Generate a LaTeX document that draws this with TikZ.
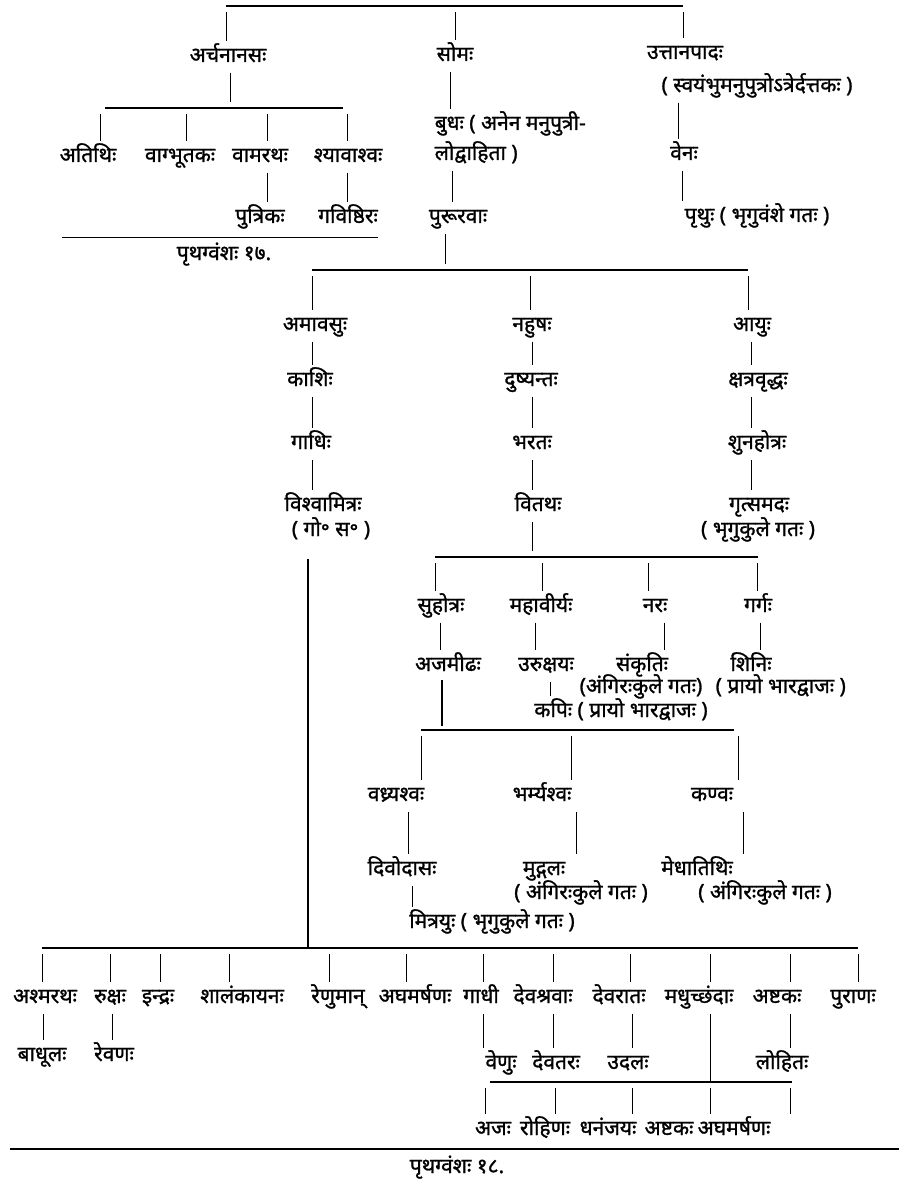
\documentclass[tikz,border=0pt]{standalone}
\usepackage{fontspec}
\setmainfont{Noto Sans}[Script=Devanagari, FakeBold=1.2]
\usetikzlibrary{positioning}
\begin{document}
\begin{tikzpicture}[x=1pt, y=-1pt,
  every node/.style={font=\fontsize{21}{24}\selectfont, inner sep=1.5pt, text height=15pt, text depth=5pt},
  lnk/.style={line width=0.9pt, shorten <=4pt, shorten >=4pt},
  drop/.style={lnk, shorten <=6pt},
  rise/.style={lnk, shorten >=6pt},
  bar/.style={line width=1.3pt},
  trunk/.style={line width=2.8pt}
]
\useasboundingbox (0,0) rectangle (899,1182);

% upper generations
\node (archa) at (228,57) {अर्चनानसः};
\node (soma) at (455,56) {सोमः};
\node (uttana) at (685,54) {उत्तानपादः};
\node (uttanaN) at (757,87) {( स्वयंभुमनुपुत्रोऽत्रेर्दत्तकः )};
\node (atithi) at (88,157) {अतिथिः};
\node (vagbhu) at (180,157) {वाग्भूतकः};
\node (vamaratha) at (260,157) {वामरथः};
\node (shyava) at (348,157) {श्यावाश्वः};
\node (putrika) at (260,218) {पुत्रिकः};
\node (gavish) at (348,218) {गविष्ठिरः};
\node (cap17) at (224,255) {पृथग्वंशः १७.};
\node[anchor=west] (budha) at (433,125) {बुधः ( अनेन मनुपुत्री-};
\node[anchor=west] (budhaN) at (433,155) {लोद्वाहिता )};
\node (pururava) at (458,218) {पुरूरवाः};
\node (vena) at (684,155) {वेनः};
\node (prithu) at (757,217) {पृथुः ( भृगुवंशे गतः )};

% three lines from pururava
\node (amavasu) at (315,326) {अमावसुः};
\node (kashi) at (310,381) {काशिः};
\node (gadhi) at (311,444) {गाधिः};
\node (vishva) at (323,506) {विश्वामित्रः};
\node (gos) at (331,531) {( गो॰ स॰ )};
\node (nahusha) at (532,326) {नहुषः};
\node (dushyanta) at (531,381) {दुष्यन्तः};
\node (bharata) at (532,444) {भरतः};
\node (vitatha) at (538,506) {वितथः};
\node (ayu) at (752,326) {आयुः};
\node (kshatra) at (758,381) {क्षत्रवृद्धः};
\node (shuna) at (757,444) {शुनहोत्रः};
\node (gritsa) at (759,506) {गृत्समदः};
\node (gritsaN) at (758,531) {( भृगुकुले गतः )};

% sons of vitatha
\node (suhotra) at (441,607) {सुहोत्रः};
\node (mahavirya) at (541,607) {महावीर्यः};
\node (nara) at (655,607) {नरः};
\node (garga) at (758,607) {गर्गः};
\node (ajamidha) at (448,666) {अजमीढः};
\node (urukshaya) at (546,666) {उरुक्षयः};
\node (sankriti) at (642,666) {संकृतिः};
\node (shini) at (751,666) {शिनिः};
\node (sankritiN) at (641,688) {(अंगिरःकुले गतः)};
\node[anchor=west] (shiniN) at (714,688) {( प्रायो भारद्वाजः )};
\node (kapi) at (621,712) {कपिः ( प्रायो भारद्वाजः )};
\node (vadhrya) at (396,796) {वध्र्यश्वः};
\node (bharmya) at (542,796) {भर्म्यश्वः};
\node (kanva) at (712,796) {कण्वः};
\node (divodasa) at (402,870) {दिवोदासः};
\node (mudgala) at (544,870) {मुद्गलः};
\node (medha) at (697,870) {मेधातिथिः};
\node (mudgalaN) at (581,894) {( अंगिरःकुले गतः )};
\node (medhaN) at (765,894) {( अंगिरःकुले गतः )};
\node (mitrayu) at (492,923) {मित्रयुः ( भृगुकुले गतः )};

% sons of vishvamitra
\node (ashma) at (45,998) {अश्मरथः};
\node (ruksha) at (110,998) {रुक्षः};
\node (indra) at (158,998) {इन्द्रः};
\node (shalan) at (242,998) {शालंकायनः};
\node (renu) at (338,998) {रेणुमान्};
\node (agha) at (415,998) {अघमर्षणः};
\node (gadhiB) at (481,998) {गाधी};
\node (devashrava) at (543,998) {देवश्रवाः};
\node (devarata) at (619,998) {देवरातः};
\node (madhu) at (699,998) {मधुच्छंदाः};
\node (ashtaka) at (777,998) {अष्टकः};
\node (purana) at (853,998) {पुराणः};
\node (badhula) at (42,1056) {बाधूलः};
\node (revana) at (114,1056) {रेवणः};
\node (venu) at (501,1064) {वेणुः};
\node (devatara) at (556,1064) {देवतरः};
\node (udala) at (628,1064) {उदलः};
\node (lohita) at (782,1064) {लोहितः};
\node (aja) at (493,1130) {अजः};
\node (rohina) at (545,1130) {रोहिणः};
\node (dhananjaya) at (608,1130) {धनंजयः};
\node (ashtakaB) at (669,1130) {अष्टकः};
\node (aghaB) at (734,1130) {अघमर्षणः};
\node (cap18) at (457,1168) {पृथग्वंशः १८.};

% bars
\coordinate (b1) at (226,6);
\coordinate (b2) at (105,108);
\coordinate (b17) at (62,237);
\coordinate (b3) at (312,270);
\coordinate (b4) at (435,557);
\coordinate (b5) at (421,730);
\coordinate (b7) at (42,948);
\coordinate (b8) at (490,1082);
\coordinate (b18) at (10,1149);
\draw[bar] (b1) -- ++(457,0);
\draw[bar] (b2) -- ++(238,0);
\draw[bar, line width=0.9pt] (b17) -- ++(316,0);
\draw[bar] (b3) -- ++(436,0);
\draw[bar] (b4) -- ++(323,0);
\draw[bar] (b5) -- ++(313,0);
\draw[bar] (b7) -- ++(816,0);
\draw[bar] (b8) -- ++(302,0);
\draw[bar] (b18) -- ++(889,0);

% connectors
\foreach \x/\n in {226/archa,455/soma,683/uttana}
  \draw[drop] (\x,0 |- b1) -- (\x,0 |- \n.north);
\draw[rise] (230,0 |- archa.south) -- (230,0 |- b2);
\foreach \x/\n in {100/atithi,186/vagbhu,267/vamaratha,347/shyava}
  \draw[drop] (\x,0 |- b2) -- (\x,0 |- \n.north);
\draw[lnk] (267,0 |- vamaratha.south) -- (267,0 |- putrika.north);
\draw[lnk] (347,0 |- shyava.south) -- (347,0 |- gavish.north);
\draw[lnk] (450,0 |- soma.south) -- (450,0 |- budha.north);
\draw[lnk] (452,0 |- budhaN.south) -- (452,0 |- pururava.north);
\draw[rise] (445,0 |- pururava.south) -- (445,0 |- b3);
\draw[lnk] (678,0 |- uttanaN.south) -- (678,0 |- vena.north);
\draw[lnk] (682,0 |- vena.south) -- (682,0 |- prithu.north);
\foreach \x/\n in {312/amavasu,530/nahusha,748/ayu}
  \draw[drop] (\x,0 |- b3) -- (\x,0 |- \n.north);
\foreach \a/\b in {amavasu/kashi,kashi/gadhi,gadhi/vishva}
  \draw[lnk] (312,0 |- \a.south) -- (312,0 |- \b.north);
\foreach \a/\b in {nahusha/dushyanta,dushyanta/bharata,bharata/vitatha}
  \draw[lnk] (532,0 |- \a.south) -- (532,0 |- \b.north);
\foreach \a/\b in {ayu/kshatra,kshatra/shuna,shuna/gritsa}
  \draw[lnk] (751,0 |- \a.south) -- (751,0 |- \b.north);
\draw[trunk, shorten <=16pt, shorten >=1pt] (308,0 |- gos.south) -- (308,0 |- b7);
\draw[rise] (532,0 |- vitatha.south) -- (532,0 |- b4);
\foreach \x/\n in {435/suhotra,542/mahavirya,648/nara,757/garga}
  \draw[drop] (\x,0 |- b4) -- (\x,0 |- \n.north);
\foreach \x/\a/\b in {440/suhotra/ajamidha,535/mahavirya/urukshaya,664/nara/sankriti,760/garga/shini}
  \draw[lnk] (\x,0 |- \a.south) -- (\x,0 |- \b.north);
\draw[trunk, shorten <=2pt, shorten >=4pt] (442,0 |- ajamidha.south) -- (442,0 |- b5);
\draw[lnk] (550,0 |- urukshaya.south) -- (550,0 |- kapi.north);
\foreach \x/\n in {421/vadhrya,571/bharmya,738/kanva}
  \draw[drop] (\x,0 |- b5) -- (\x,0 |- \n.north);
\foreach \x/\a/\b in {408/vadhrya/divodasa,576/bharmya/mudgala,743/kanva/medha,412/divodasa/mitrayu}
  \draw[lnk] (\x,0 |- \a.south) -- (\x,0 |- \b.north);
\foreach \x/\n in {42/ashma,110/ruksha,160/indra,229/shalan,329/renu,406/agha,483/gadhiB,553/devashrava,630/devarata,710/madhu,790/ashtaka,858/purana}
  \draw[drop] (\x,0 |- b7) -- (\x,0 |- \n.north);
\foreach \x/\a/\b in {43/ashma/badhula,112/ruksha/revana,483/gadhiB/venu,553/devashrava/devatara,632/devarata/udala,790/ashtaka/lohita}
  \draw[lnk] (\x,0 |- \a.south) -- (\x,0 |- \b.north);
\draw[lnk, shorten >=0pt] (710,0 |- madhu.south) -- (710,0 |- b8);
\foreach \x/\n in {485/aja,555/rohina,632/dhananjaya,710/ashtakaB,790/aghaB}
  \draw[drop] (\x,0 |- b8) -- (\x,0 |- \n.north);
\end{tikzpicture}
\end{document}
